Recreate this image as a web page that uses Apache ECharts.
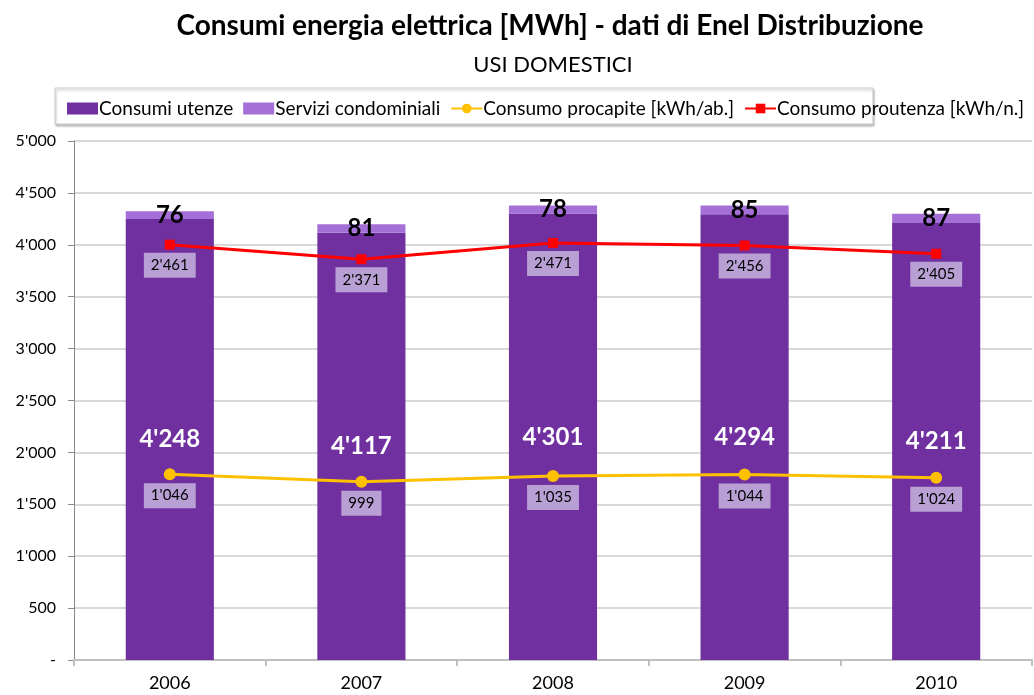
<!DOCTYPE html>
<html>
<head>
<meta charset="utf-8">
<script src="https://cdn.jsdelivr.net/npm/echarts@6/dist/echarts.min.js"></script>
<style>
html, body { margin: 0; padding: 0; background: #fff; }
#main { width: 1034px; height: 695px; }
</style>
</head>
<body>
<div id="main"></div>
<script>
var years = ['2006', '2007', '2008', '2009', '2010'];
var consumiUtenze = [4248, 4117, 4301, 4294, 4211];
var serviziCondominiali = [76, 81, 78, 85, 87];
var consumoProcapite = [1046, 999, 1035, 1044, 1024];
var consumoProutenza = [2461, 2371, 2471, 2456, 2405];

var FONT = 'Lato, "Open Sans", sans-serif';

// separatore migliaia con apostrofo
function fmt(v) {
	return String(v).replace(/\B(?=(\d{3})+(?!\d))/g, "'");
}

var chart = echarts.init(document.getElementById('main'));

var lineLabel = {
	show: true,
	position: 'bottom',
	distance: 3,
	color: '#000',
	fontFamily: FONT,
	fontSize: 15,
	backgroundColor: '#B8A0D5',
	padding: [5, 7, 5, 7],
	formatter: function (p) { return fmt(p.value); }
};

var option = {
	animation: false,
	textStyle: { fontFamily: FONT },
	title: [{
		text: 'Consumi energia elettrica [MWh] - dati di Enel Distribuzione',
		left: 545, top: 7, textAlign: 'center',
		textStyle: { fontSize: 28, fontWeight: 'bold', color: '#000', fontFamily: FONT }
	}, {
		text: 'USI DOMESTICI',
		left: 548, top: 49, textAlign: 'center',
		textStyle: { fontSize: 22, fontWeight: 'normal', color: '#000', fontFamily: FONT }
	}],
	graphic: [{
		type: 'rect',
		shape: { x: 55, y: 88, width: 818, height: 36 },
		style: { fill: '#fff', stroke: '#c8c8c8', lineWidth: 1, shadowColor: 'rgba(0,0,0,0.25)', shadowOffsetX: 1, shadowOffsetY: 2, shadowBlur: 2 },
		z: -1
	}],
	legend: {
		top: 94,
		left: 62,
		itemGap: 10,
		itemWidth: 31,
		itemHeight: 12,
		textStyle: { fontSize: 19, color: '#000', fontFamily: FONT, padding: [0, 0, 0, -4] },
		data: [
			{ name: 'Consumi utenze', icon: 'rect' },
			{ name: 'Servizi condominiali', icon: 'rect' },
			{ name: 'Consumo procapite [kWh/ab.]' },
			{ name: 'Consumo proutenza [kWh/n.]' }
		]
	},
	grid: { left: 74, right: 2, top: 141, bottom: 35 },
	xAxis: {
		type: 'category',
		data: years,
		axisLine: { lineStyle: { color: '#bfbfbf', width: 2 } },
		axisTick: { show: true, alignWithLabel: false, length: 6, lineStyle: { color: '#bfbfbf', width: 2 } },
		axisLabel: { color: '#000', fontSize: 18, margin: 14, fontFamily: FONT }
	},
	yAxis: [{
		type: 'value',
		min: 0, max: 5000, interval: 500,
		axisLine: { show: true, lineStyle: { color: '#888' } },
		axisTick: { show: true, length: 6, lineStyle: { color: '#888' } },
		axisLabel: {
			color: '#000', fontSize: 16, margin: 18, fontFamily: FONT,
			formatter: function (v) { return v === 0 ? '-' : fmt(v); }
		},
		splitLine: { lineStyle: { color: '#d9d9d9', width: 2 } }
	}, {
		type: 'value',
		min: -100, max: 3100,
		show: false,
		splitLine: { show: false }
	}],
	series: [{
		name: 'Consumi utenze',
		type: 'bar',
		stack: 'tot',
		barWidth: '46%',
		itemStyle: { color: '#7030A0' },
		label: {
			show: true, position: 'inside', color: '#fff', fontSize: 24, fontWeight: 'bold',
			fontFamily: FONT,
			formatter: function (p) { return fmt(p.value); }
		},
		data: consumiUtenze
	}, {
		name: 'Servizi condominiali',
		type: 'bar',
		stack: 'tot',
		itemStyle: { color: '#A46FD6' },
		label: {
			show: true, position: 'inside', color: '#000', fontSize: 24, fontWeight: 'bold',
			fontFamily: FONT
		},
		labelLayout: { hideOverlap: false },
		data: serviziCondominiali
	}, {
		name: 'Consumo procapite [kWh/ab.]',
		type: 'line',
		yAxisIndex: 1,
		symbol: 'circle',
		symbolSize: 12,
		lineStyle: { color: '#FFC000', width: 3 },
		itemStyle: { color: '#FFC000' },
		label: lineLabel,
		data: consumoProcapite
	}, {
		name: 'Consumo proutenza [kWh/n.]',
		type: 'line',
		yAxisIndex: 1,
		symbol: 'rect',
		symbolSize: 10,
		lineStyle: { color: '#FF0000', width: 3 },
		itemStyle: { color: '#FF0000' },
		label: lineLabel,
		data: consumoProutenza
	}]
};

chart.setOption(option);
</script>
</body>
</html>
